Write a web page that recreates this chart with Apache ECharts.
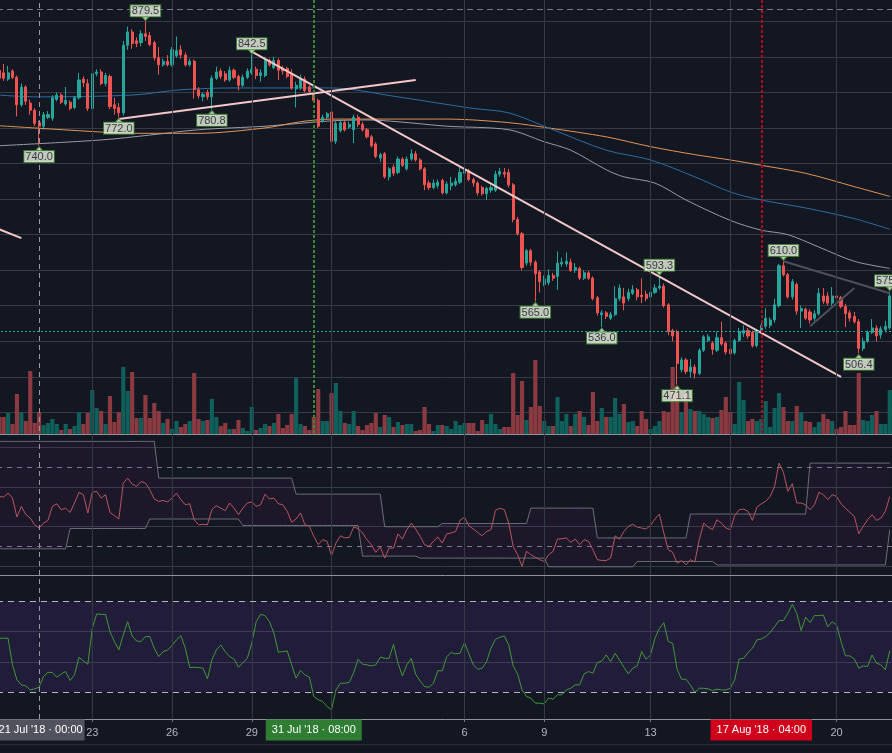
<!DOCTYPE html>
<html>
<head>
<meta charset="utf-8">
<title>4h chart</title>
<style>
  html, body { margin: 0; padding: 0; background: #131722; }
  #chart { width: 892px; height: 753px; }
</style>
<script src="https://cdn.jsdelivr.net/npm/echarts@6/dist/echarts.min.js"></script>
</head>
<body>
<div id="chart"></div>
<script>
// 4h candles, first one 19 Jul 2018 12:00
const START = Date.UTC(2018, 6, 19, 12)
const STEP = 4 * 3600 * 1000

// [open, close, low, high]
const candles = [
  [825,816,812,830],[822,816,813,832],[815,822,813,830],[824,817,815,826],[817,786,773,819],
  [786,806,784,810],[806,790,786,808],[788,780,775,792],[780,765,762,782],[766,762,740,768],
  [762,775,758,778],[772,775,770,779],[771,794,768,797],[792,797,790,800],[797,789,787,799],
  [787,791,785,806],[789,782,780,791],[783,794,781,796],[794,814,792,822],[815,811,806,818],
  [810,782,779,815],[782,821,778,837],[821,823,818,826],[823,810,808,826],[810,819,807,822],
  [818,784,781,820],[786,782,775,794],[783,777,772,788],[777,853,774,858],[853,868,848,874],
  [868,855,849,871],[858,855,851,862],[856,866,852,870],[866,863,858,879.5],[864,854,852,868],
  [856,839,836,858],[839,831,820,851],[831,835,829,838],[835,831,829,842],[831,848,829,851],
  [841,847,839,863],[848,842,838,853],[842,831,829,845],[831,835,829,838],[835,803,793,837],
  [803,796,793,806],[795,798,790,800],[800,795,792,803],[795,816,780.8,819],[816,823,814,829],
  [824,818,815,827],[821,814,812,824],[814,825,812,829],[825,817,815,827],[818,808,802,820],
  [808,817,806,820],[817,824,815,827],[822,826,820,842.5],[826,819,815,829],[819,822,812,826],
  [819,836,817,840],[836,831,829,838],[828,836,826,840],[836,825,814,838],[827,824,820,830],
  [827,818,816,829],[821,805,803,826],[804,808,783,812],[805,816,803,820],[815,802,800,818],
  [806,801,798,808],[799,791,789,802],[791,762,760,793],[768,772,766,775],[772,776,770,778],
  [778,745,736,780],[745,765,742,768],[757,766,755,769],[766,758,756,769],[761,764,759,767],
  [758,772,743,775],[772,764,761,775],[764,758,756,767],[758,750,748,760],[750,740,738,752],
  [742,728,726,744],[726,730,722,732],[731,705,703,733],[705,714,701,716],[716,709,706,719],
  [710,725,708,728],[725,718,716,727],[714,725,712,728],[725,731,723,736],[731,724,722,734],
  [724,714,712,726],[714,696,690,716],[698,693,690,701],[693,698,691,702],[695,699,692,702],
  [701,687,685,703],[687,697,685,700],[695,698,690,705],[696,700,694,704],[699,710,697,718],
  [709,712,706,717],[712,702,700,714],[702,698,694,704],[698,687,684,700],[693,686,684,695],
  [686,692,679,694],[690,693,687,696],[690,708,688,712],[708,711,705,715],[710,708,704,715],
  [710,696,693,714],[696,657,654,698],[657,641,639,660],[641,603,600,643],[608,622,605,624],
  [622,609,605,624],[609,596,565,611],[598,587,575,600],[584,590,582,594],[586,594,583,601],
  [594,591,588,597],[593,608,578,621],[607,609,604,614],[607,610,604,620],[609,600,598,613],
  [600,603,597,608],[602,591,589,604],[591,597,589,600],[597,591,589,599],[591,568,566,593],
  [569,552,549,571],[550,552,536,555],[552,548,545,554],[546,550,544,553],[550,568,548,582],
  [568,580,565,584],[570,563,555,580],[568,575,565,579],[574,578,572,583],[578,570,566,580],
  [572,570,563,591],[573,568,565,577],[570,575,568,578],[575,580,573,584],[580,582,578,593.3],
  [582,560,558,585],[561,531,527,563],[532,526,520,534],[531,495,471.1,533],[488,499,485,502],
  [499,486,483,501],[486,491,479,500],[491,484,478,494],[484,510,482,512],[510,525,508,527],
  [521,525,519,528],[518,511,505,520],[510,524,508,531],[524,517,515,542],[518,508,505,520],
  [511,506,502,513],[507,521,505,523],[521,531,519,535],[529,532,525,538],[532,526,523,535],
  [530,515,513,532],[515,531,513,533],[531,538,528,541],[537,546,534,557],[538,544,535,547],
  [544,561,541,568],[560,605,558,607],[605,595,593,610],[595,570,568,597],[570,587,567,590],
  [584,554,550,586],[554,557,535,560],[556,546,544,558],[553,544,540,556],[546,551,543,555],
  [551,574,549,580],[571,565,562,580],[571,563,560,575],[563,571,560,581],[571,569,566,575],
  [569,559,557,571],[559,551,536,562],[552,546,542,555],[548,542,540,553],[542,512,506.4,545],
  [512,520,509,524],[520,530,518,532],[530,535,528,545],[535,526,520,538],[527,534,523,537],
  [533,537,530,543],[535,571,533,575.8]
]

const volumes = [
  17,17,21,10,40,22,13,63,11,22, 9,11,15,10,4,10,5,8,22,10,
  21,44,26,23,10,38,12,22,67,43, 62,16,16,39,16,31,23,11,15,5,
  13,7,10,13,61,15,13,14,35,17, 8,11,5,5,14,6,3,27,4,6,
  10,8,11,20,6,9,20,56,10,8, 4,17,45,13,13,41,51,23,11,10,
  23,8,4,9,11,21,7,19,17,7, 12,9,10,10,3,4,27,10,3,9,
  9,8,5,13,9,11,11,11,3,14, 10,20,10,5,7,7,61,19,53,14,
  27,74,28,13,8,8,37,13,20,8, 20,23,17,9,42,13,26,17,17,36,
  20,30,12,13,8,23,15,5,8,13, 23,22,67,48,22,40,25,23,23,20,
  17,16,17,24,37,22,10,52,34,13, 15,13,15,33,7,26,41,27,13,13,
  28,22,13,12,7,12,20,15,13,5, 7,23,9,9,61,14,13,19,23,10,
  10,44
]

// moving averages, sampled [candle, price]
const maBlue = [[0,797],[8,795],[30,797],[41,803],[53,805],[68,805],[75,805],[90,795],[99,788],[107,782],
  [115,777],[124,760],[137,735],[147,724],[157,705],[165,688],[172,679],[182,670],[193,658],[201,646]]
const maOrange = [[0,762.5],[8,760],[21,756],[30,754],[45,754],[60,760],[68,767],[75,770],[101,770],[115,766],
  [124,760],[137,750],[147,739],[157,730],[165,724],[172,718],[182,709],[193,694],[201,683]]
const maGrey = [[0,740],[23,746.5],[34,752],[45,758],[60,762],[75,768],[83,769],[90,767],[101,762],[115,758],
  [123,744.5],[129,735],[137,713],[141,705],[148,698],[155,679],[165,656],[172,645],[178,640],[185,626],
  [193,610],[201,602]]

// drawn trend lines [candle, price]
const trendPink = [
  [[0,646],[5,636]],
  [[27,770],[94,814]],
  [[57,846],[190,480]]
]
const trendGrey = [
  [[177,610],[201,574]],
  [[183,537],[193,580]]
]

// high / low price tags
const highTags = [[33,879.5],[57,842.5],[149,593.3],[177,610.0],[201,575.8]]
const lowTags = [[9,740.0],[27,772.0],[48,780.8],[121,565.0],[136,536.0],[153,471.1],[194,506.4]]

const rsi = [
  55.1,54.8,56.8,54.3,44.7,50.1,45.9,44.2,40.8,39.1, 41.6,43.0,50.1,51.4,48.4,49.2,47.0,51.8,57.2,56.0,
  46.7,57.2,57.7,54.3,56.0,47.0,45.4,43.7,61.9,64.4, 61.4,60.2,62.7,61.9,58.5,53.8,52.6,53.1,52.3,54.3,
  56.8,53.5,50.9,51.4,43.3,40.8,41.0,40.8,48.4,50.4, 49.2,47.9,51.8,49.2,45.9,49.2,51.8,52.3,50.1,50.9,
  56.3,53.8,54.3,51.4,50.9,47.6,42.0,43.7,46.7,40.8, 40.0,34.9,30.7,33.2,32.4,25.1,31.5,35.2,34.1,34.4,
  39.6,38.9,36.6,33.2,30.7,26.8,29.5,23.9,29.0,29.0, 36.2,33.5,38.3,41.6,38.6,34.9,30.7,29.8,32.4,34.6,
  31.5,36.2,
  36.6,37.4,43.0,44.7,40.3,38.6,36.9,35.2,37.4,38.3, 48.1,49.2,48.4,41.6,29.8,25.6,19.7,27.3,25.6,24.3,
  23.1,22.2,25.6,27.3,33.5,33.7,34.1,31.9,33.5,30.7, 33.2,32.4,28.1,23.1,22.7,22.7,23.9,35.2,33.5,37.4,
  40.0,41.1,39.6,39.1,38.6,40.5,43.7,46.2,36.6,28.1, 26.8,21.4,22.6,20.5,23.1,21.9,33.2,41.6,39.6,38.3,
  43.3,41.6,39.1,38.3,45.4,48.4,48.7,47.6,43.0,49.7, 51.4,52.6,55.1,60.2,72.0,67.3,57.7,61.6,51.8,51.8,
  50.9,48.4,50.9,57.2,56.0,53.5,56.0,55.1,51.4,49.2, 47.0,45.0,36.2,40.0,43.3,45.9,43.0,44.2,47.6,55.1
]

// rsi channel as steps [firstCandle, lastCandle, level]
const rsiUpperSteps = [[0,35,83.0],[36,66,64.4],[67,86,56.3],[87,99,39.8],[100,119,41.4],
  [120,134,49.2],[135,155,34.1],[156,182,46.2],[183,201,72.0]]
const rsiLowerSteps = [[0,15,28.6],[16,33,38.9],[34,54,43.7],[55,81,40.4],[82,94,24.9],
  [95,123,23.9],[124,143,19.5],[144,161,22.2],[162,200,20.4],[201,201,38.3]]

const stoch = [
  55.5,55.5,55.5,38.0,28.1,24.8,24.2,21.5,22.2,23.3, 30.3,33.1,32.9,29.9,32.0,33.6,27.7,31.4,43.0,40.6,
  38.4,62.0,71.5,71.2,71.2,59.9,53.3,47.8,57.7,66.4, 57.0,53.7,53.3,56.6,56.6,48.9,43.4,46.7,47.8,50.7,
  54.4,57.2,48.9,36.2,36.4,36.2,35.8,28.8,41.2,47.8, 51.1,46.7,43.4,41.9,36.4,39.5,42.3,52.2,66.4,71.2,
  70.4,66.4,58.8,46.3,46.7,47.2,38.0,29.2,34.2,31.4, 29.9,17.2,15.0,13.9,10.6,8.4,21.5,25.9,25.9,26.4,
  32.9,41.7,38.4,38.0,37.3,38.0,43.0,42.3,42.3,51.5, 39.1,30.7,38.0,42.3,31.8,27.4,23.7,23.3,25.9,34.2,
  34.0,43.4,
  46.1,45.2,45.6,52.6,45.2,38.0,35.1,35.8,40.1,48.9, 54.8,56.1,57.0,51.1,37.3,32.0,21.5,17.2,16.1,12.8,
  12.8,12.3,16.1,15.4,18.3,18.3,21.5,22.6,24.8,24.8, 32.0,33.6,32.5,39.5,40.6,44.5,40.1,45.6,41.2,36.4,
  32.0,35.8,37.3,46.7,41.7,44.5,55.5,62.0,65.8,53.3, 52.2,35.1,28.5,28.5,24.8,19.8,22.6,22.6,22.2,21.1,
  22.0,21.5,21.5,22.6,28.1,41.9,42.3,46.1,48.9,54.4, 55.0,56.6,59.2,63.1,67.1,67.1,71.9,77.8,71.9,60.5,
  69.3,65.8,70.4,70.4,70.8,63.1,66.4,64.2,53.3,43.9, 43.9,41.9,35.8,37.3,36.9,44.5,39.1,38.0,34.7,47.4
]

// time axis ticks
const dayTickIdx = [21, 39, 57, 105, 123, 147, 189]
const dayTickText = ['23', '26', '29', '6', '9', '13', '20']
const gridLineIdx = [21, 39, 57, 75, 105, 123, 147, 165, 189]
const boxTickIdx = [9, 71, 172]
const boxTickText = ["21 Jul '18 · 00:00", "31 Jul '18 · 08:00", "17 Aug '18 · 04:00"]
const boxTickStyle = ['grey', 'green', 'red']
const crossIdx = 9

// colours
const BG = '#131722'
const GRID = '#363a45'
const SEP = '#8f929b'
const UP = '#26a69a'
const DOWN = '#ef5350'
const VOL_UP = '#0f5f5b'
const VOL_DOWN = '#8a3a40'
const FONT = "'Liberation Sans', Arial, sans-serif"
const CLEAR = 'rgba(0,0,0,0)'

const categories = candles.map((c, i) => {
  const d = new Date(START + i * STEP)
  return d.toISOString().slice(0, 16)
})

const expandSteps = (steps) => {
  const out = []
  steps.forEach(([a, b, v]) => { for (let i = a; i <= b; i++) out[i] = v })
  return out
}
const rsiUpper = expandSteps(rsiUpperSteps)
const rsiLower = expandSteps(rsiLowerSteps)

const xAxisFor = (gridIndex, extra = {}) => Object.assign({
  type: 'category',
  gridIndex,
  data: categories,
  boundaryGap: true,
  axisLine: { show: false },
  axisTick: { show: false },
  axisLabel: { show: false },
  splitLine: { show: false }
}, extra)

const hiddenY = (gridIndex, min, max, extra = {}) => Object.assign({
  type: 'value',
  gridIndex,
  min,
  max,
  axisLine: { show: false },
  axisTick: { show: false },
  axisLabel: { show: false },
  splitLine: { show: false }
}, extra)

const tagLabel = {
  show: true,
  distance: 0,
  color: '#131722',
  fontSize: 11,
  fontFamily: FONT,
  lineHeight: 10,
  backgroundColor: '#eef6e4',
  borderColor: '#4a8f3a',
  borderWidth: 1,
  padding: [1, 1, 0, 1],
  formatter: p => p.value[1].toFixed(1)
}

const boxStyle = (bg, padding) => ({
  backgroundColor: bg,
  color: '#ffffff',
  fontSize: 11,
  fontFamily: FONT,
  lineHeight: 12,
  padding: padding || [5, 6, 5, 6]
})

const chart = echarts.init(document.getElementById('chart'))

const option = {
  backgroundColor: BG,
  animation: false,
  grid: [
    { left: -3, right: 0, top: 0, height: 719, outerBoundsMode: 'none' },          // time axis + vertical lines
    { left: -3, right: 0, top: -14.25, height: 462.2, outerBoundsMode: 'none' },   // price
    { left: -3, right: 0, top: 334, height: 100, outerBoundsMode: 'none' },        // volume
    { left: -3, right: 0, top: 407.8, height: 197.5, outerBoundsMode: 'none' },    // rsi
    { left: -3, right: 0, top: 570.6, height: 152, outerBoundsMode: 'none' }       // stoch
  ],
  xAxis: [
    xAxisFor(0, {
      axisLine: { show: true, lineStyle: { color: SEP, width: 1 } },
      axisTick: {
        show: true,
        alignWithLabel: true,
        length: 3,
        interval: (i) => dayTickIdx.includes(i),
        lineStyle: { color: '#787b86' }
      },
      axisLabel: {
        show: true,
        margin: 5,
        hideOverlap: false,
        showMinLabel: true,
        showMaxLabel: true,
        interval: (i) => dayTickIdx.includes(i) || boxTickIdx.includes(i),
        formatter: (v, i) => {
          const b = boxTickIdx.indexOf(i)
          if (b >= 0) return '{' + boxTickStyle[b] + '|' + boxTickText[b] + '}'
          return '{d|' + dayTickText[dayTickIdx.indexOf(i)] + '}'
        },
        rich: {
          d: { color: '#b2b5be', fontSize: 11, fontFamily: FONT, lineHeight: 18 },
          grey: boxStyle('#50535e', [5, 2, 5, 5]),
          green: boxStyle('#2e7d32'),
          red: boxStyle('#d0021b')
        }
      }
    }),
    xAxisFor(1),
    xAxisFor(2, { axisLine: { show: true, lineStyle: { color: SEP, width: 1 } } }),
    xAxisFor(3),
    xAxisFor(4)
  ],
  yAxis: [
    hiddenY(0, 0, 1),
    hiddenY(1, 400, 920, {
      interval: 40,
      splitLine: { show: true, lineStyle: { color: [CLEAR, GRID, GRID, GRID, GRID, GRID, GRID, GRID, GRID, GRID, GRID, GRID, GRID, CLEAR], width: 1 } }
    }),
    hiddenY(2, 0, 100),
    hiddenY(3, 0, 100, {
      interval: 20,
      splitLine: { show: true, lineStyle: { color: [CLEAR, GRID, GRID, GRID, GRID, CLEAR], width: 1 } }
    }),
    hiddenY(4, 0, 100, {
      interval: 20,
      splitLine: { show: true, lineStyle: { color: [CLEAR, CLEAR, GRID, GRID, CLEAR, CLEAR], width: 1 } }
    })
  ],
  graphic: [
    { type: 'line', shape: { x1: 0, y1: 744.5, x2: 892, y2: 744.5 }, style: { stroke: '#2a2e39', lineWidth: 1 }, silent: true }
  ],
  series: [
    // vertical grid lines and crosshair across all panes
    {
      type: 'line', xAxisIndex: 0, yAxisIndex: 0, data: [], silent: true, z: 1,
      markLine: {
        symbol: 'none', silent: true, animation: false, label: { show: false },
        data: gridLineIdx.map(i => ({ xAxis: categories[i], lineStyle: { color: GRID, width: 1, type: 'solid' } }))
          .concat([{ xAxis: categories[crossIdx], lineStyle: { color: '#9598a1', width: 1, type: [5, 4] } }])
      }
    },
    // moving averages
    { type: 'line', xAxisIndex: 1, yAxisIndex: 1, data: maGrey, showSymbol: false, smooth: 0.3, z: 2,
      lineStyle: { color: '#9a9ca3', width: 1 } },
    { type: 'line', xAxisIndex: 1, yAxisIndex: 1, data: maOrange, showSymbol: false, smooth: 0.3, z: 2,
      lineStyle: { color: '#e39556', width: 1 } },
    { type: 'line', xAxisIndex: 1, yAxisIndex: 1, data: maBlue, showSymbol: false, smooth: 0.3, z: 2,
      lineStyle: { color: '#2b6ea8', width: 1 } },
    // candles
    {
      type: 'candlestick', xAxisIndex: 1, yAxisIndex: 1, data: candles, barWidth: 2.6, z: 3,
      itemStyle: { color: UP, color0: DOWN, borderColor: UP, borderColor0: DOWN, borderWidth: 1 }
    },
    // marker lines on price pane
    {
      type: 'line', xAxisIndex: 1, yAxisIndex: 1, data: [], silent: true, z: 3,
      markLine: {
        symbol: 'none', silent: true, animation: false, label: { show: false },
        data: [
          { yAxis: 893.8, lineStyle: { color: '#787b86', width: 1, type: [6, 4] } },
          { yAxis: 531.6, lineStyle: { color: UP, width: 1, type: [2, 2] } },
          [{ coord: [categories[71], 904], lineStyle: { color: '#3a8a35', width: 2, type: [3, 2] } }, { coord: [categories[71], 416.5] }],
          [{ coord: [categories[172], 904], lineStyle: { color: '#b0001b', width: 2, type: [3, 2] } }, { coord: [categories[172], 416.5] }]
        ]
      }
    },
    // trend lines
    ...trendPink.map(seg => ({
      type: 'line', xAxisIndex: 1, yAxisIndex: 1, data: seg, showSymbol: false, silent: true, z: 4,
      lineStyle: { color: '#f4c7c7', width: 2 }
    })),
    ...trendGrey.map(seg => ({
      type: 'line', xAxisIndex: 1, yAxisIndex: 1, data: seg, showSymbol: false, silent: true, z: 4,
      lineStyle: { color: '#4d5059', width: 2 }
    })),
    // price tags
    {
      type: 'scatter', xAxisIndex: 1, yAxisIndex: 1, data: highTags, z: 6,
      symbol: 'path://M0,0 L10,0 L5,6 Z', symbolSize: [7, 4], symbolOffset: [0, -3],
      itemStyle: { color: '#eef6e4', borderColor: '#4a8f3a', borderWidth: 1 },
      label: Object.assign({ position: 'top' }, tagLabel)
    },
    {
      type: 'scatter', xAxisIndex: 1, yAxisIndex: 1, data: lowTags, z: 6,
      symbol: 'path://M5,0 L10,6 L0,6 Z', symbolSize: [7, 4], symbolOffset: [0, 3],
      itemStyle: { color: '#eef6e4', borderColor: '#4a8f3a', borderWidth: 1 },
      label: Object.assign({ position: 'bottom' }, tagLabel)
    },
    // volume
    {
      type: 'bar', xAxisIndex: 2, yAxisIndex: 2, barCategoryGap: '6%', z: 2,
      data: volumes.map((v, i) => ({
        value: v,
        itemStyle: { color: candles[i][1] >= candles[i][0] ? VOL_UP : VOL_DOWN }
      }))
    },
    // rsi channel
    {
      type: 'line', xAxisIndex: 3, yAxisIndex: 3, data: rsiLower, stack: 'ch', showSymbol: false, z: 2,
      lineStyle: { color: '#6b6e78', width: 1 }
    },
    {
      type: 'line', xAxisIndex: 3, yAxisIndex: 3, data: rsiUpper.map((v, i) => v - rsiLower[i]), stack: 'ch',
      showSymbol: false, z: 2,
      lineStyle: { color: '#6b6e78', width: 1 },
      areaStyle: { color: 'rgba(150,40,160,0.1)' }
    },
    {
      type: 'line', xAxisIndex: 3, yAxisIndex: 3, data: rsi, showSymbol: false, z: 3,
      lineStyle: { color: '#b85560', width: 1 },
      markLine: {
        symbol: 'none', silent: true, animation: false, label: { show: false },
        data: [
          { yAxis: 70, lineStyle: { color: '#86708c', width: 1, type: [5, 5] } },
          { yAxis: 30, lineStyle: { color: '#86708c', width: 1, type: [5, 5] } },
          { yAxis: 15.2, lineStyle: { color: SEP, width: 1, type: 'solid' } }
        ]
      }
    },
    // stoch
    {
      type: 'line', xAxisIndex: 4, yAxisIndex: 4, data: stoch, showSymbol: false, z: 3,
      lineStyle: { color: '#3f9a35', width: 1 },
      markArea: {
        silent: true,
        itemStyle: { color: 'rgba(120,60,220,0.13)' },
        data: [[{ yAxis: 20 }, { yAxis: 80 }]]
      },
      markLine: {
        symbol: 'none', silent: true, animation: false, label: { show: false },
        data: [
          { yAxis: 80, lineStyle: { color: '#b2b5be', width: 1, type: [6, 5] } },
          { yAxis: 20, lineStyle: { color: '#b2b5be', width: 1, type: [6, 5] } }
        ]
      }
    }
  ]
}

chart.setOption(option)
window.addEventListener('resize', () => chart.resize())
</script>
</body>
</html>
